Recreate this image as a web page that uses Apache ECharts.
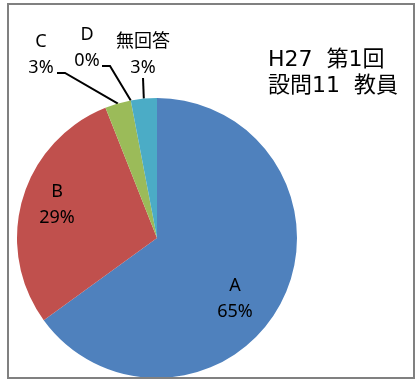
<!DOCTYPE html>
<html>
<head>
<meta charset="utf-8">
<script src="https://cdn.jsdelivr.net/npm/echarts@6/dist/echarts.min.js"></script>
<style>
  html, body { margin: 0; padding: 0; background: #fff; }
  #chart { width: 417px; height: 379px; }
</style>
</head>
<body>
<div id="chart"></div>
<script>
// Answer categories and their shares (%)
const categories = ['A', 'B', 'C', 'D', '無回答'];
const shares = [65, 29, 3, 0, 3];
const sliceColors = ['#4F81BD', '#C0504D', '#9BBB59', '#8064A2', '#4BACC6'];
const titleText = 'H27  第1回\n設問11  教員';

// Label placement: centre of each label block, plus the elbow of its leader line
const labelPlacement = {
  'A':     { at: [235, 299] },
  'B':     { at: [57, 205] },
  'C':     { at: [41, 55],  line: [[57, 73], [65, 73]] },
  'D':     { at: [87, 48],  line: [[102, 66], [110, 66]] },
  '無回答': { at: [143, 55], line: [[143, 78]] }
};

const chart = echarts.init(document.getElementById('chart'), null, { renderer: 'canvas' });

const pieData = categories.map((name, i) => ({
  name: name,
  value: shares[i],
  itemStyle: { color: sliceColors[i] },
  labelLine: { show: !!labelPlacement[name].line }
}));

chart.setOption({
  animation: false,
  title: {
    text: titleText,
    left: 268,
    top: 47,
    padding: 0,
    textStyle: {
      fontFamily: 'DejaVu Sans, "Noto Sans CJK JP", sans-serif',
      fontSize: 22,
      fontWeight: 'normal',
      color: '#000',
      lineHeight: 26
    }
  },
  graphic: [{
    type: 'rect',
    z: 100,
    shape: { x: 8, y: 4, width: 406, height: 374 },
    style: { fill: 'none', stroke: '#808080', lineWidth: 2 }
  }],
  series: [{
    type: 'pie',
    center: [157, 238],
    radius: 140,
    startAngle: 90,
    clockwise: true,
    avoidLabelOverlap: false,
    data: pieData,
    label: {
      show: true,
      position: 'outside',
      formatter: p => p.name + '\n' + p.value + '%',
      fontFamily: '"Noto Sans", "Noto Sans CJK JP", sans-serif',
      fontSize: 18,
      lineHeight: 26,
      color: '#000',
      align: 'center'
    },
    labelLine: {
      show: true,
      length: 10,
      length2: 10,
      lineStyle: { color: '#000', width: 2 }
    },
    emphasis: { disabled: true },
    labelLayout: function (params) {
      const name = categories[params.dataIndex];
      const place = labelPlacement[name];
      const out = {
        x: place.at[0],
        y: place.at[1],
        align: 'center',
        verticalAlign: 'middle'
      };
      if (place.line && params.labelLinePoints) {
        const edge = params.labelLinePoints[0];
        out.labelLinePoints = [edge].concat(place.line.slice().reverse());
      }
      return out;
    }
  }]
});
</script>
</body>
</html>
